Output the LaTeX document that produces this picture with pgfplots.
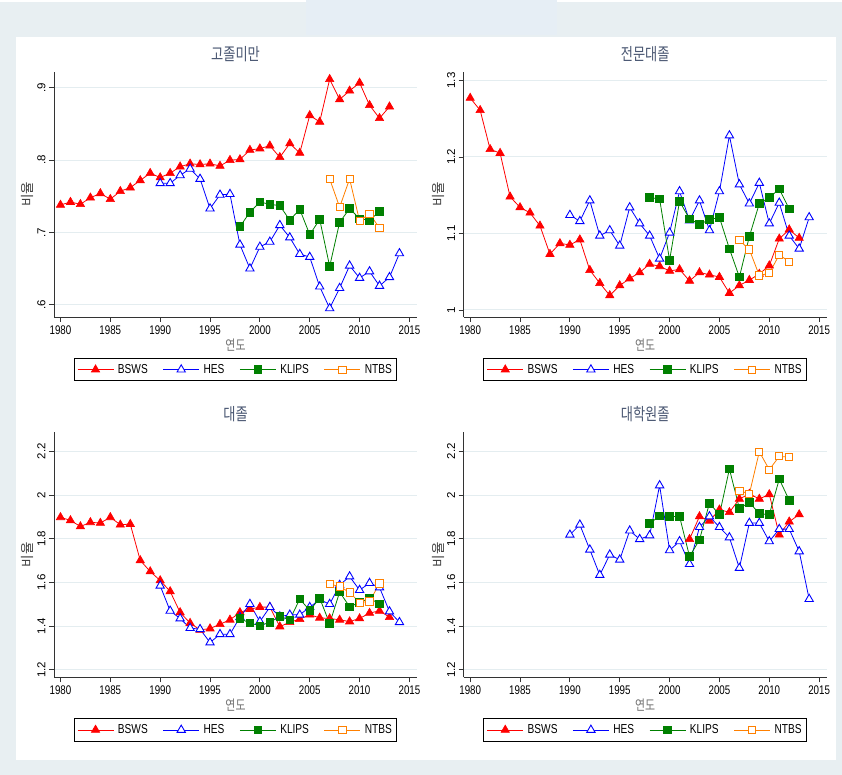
\documentclass[border=0pt]{standalone}
\usepackage{fontspec}
\setmainfont{Liberation Sans}[FakeStretch=0.78]
\newfontfamily\rotfont{Liberation Sans}
\newfontfamily\kr{Noto Sans CJK KR}[FakeStretch=0.78]
\newfontfamily\krrot{Noto Sans CJK KR}
\usepackage{pgfplots}
\pgfplotsset{compat=1.18}
\definecolor{bgout}{HTML}{E8EFF2}
\definecolor{bgtop}{HTML}{E6EEF5}
\definecolor{gridcol}{HTML}{E4EDF0}
\definecolor{titlecol}{HTML}{4B5873}
\definecolor{sred}{RGB}{255,0,0}
\definecolor{sblue}{RGB}{0,0,255}
\definecolor{sgreen}{RGB}{0,128,0}
\definecolor{sorange}{RGB}{255,128,0}
\pgfplotsset{
  panel/.style={
    scale only axis, width=363pt, height=245pt,
    anchor=south west,
    xmin=1979.35, xmax=2015.76,
    axis x line*=bottom, axis y line*=left,
    axis line style={black!80, line width=0.8pt, -},
    tick align=outside, major tick length=5pt,
    tick style={black!80, line width=0.8pt},
    xtick={1980,1985,...,2015},
    xticklabels={1980,1985,1990,1995,2000,2005,2010,2015},
    ymajorgrids, grid style={gridcol, line width=1pt},
    xticklabel style={font=\fontsize{12.5}{14}\selectfont, text=black},
    yticklabel style={rotate=90, anchor=south, font=\rotfont\fontsize{11.5}{13}\selectfont, text=black},
    title style={at={(axis description cs:0.5,1.049)}, anchor=center, font=\kr\fontsize{17}{20}\selectfont, text=titlecol},
    xlabel={\kr\fontsize{14}{16}\selectfont 연도},
    xlabel style={at={(axis description cs:0.5,-0.1143)}, anchor=center, text=black!55},
    ylabel={\krrot\fontsize{13.5}{16}\selectfont 비율},
    ylabel style={anchor=center, text=black!75},
    legend columns=4,
    legend style={at={(axis description cs:0.5,-0.167)}, anchor=north, draw=black, line width=0.8pt, fill=white,
      font=\fontsize{13}{15}\selectfont, inner xsep=3pt, inner ysep=4pt,
      /tikz/every even column/.append style={column sep=13pt},
      /tikz/every odd column/.append style={column sep=2pt}},
    legend image code/.code={\draw[mark repeat=2,mark phase=2,#1] plot coordinates {(0pt,0pt)(18pt,0pt)(36pt,0pt)};},
  },
  bsws/.style={color=sred, line width=0.8pt, mark=triangle*, mark size=4.8pt, mark options={solid, fill=sred, draw=sred, line width=0.6pt}},
  hes/.style={color=sblue, line width=0.8pt, mark=triangle*, mark size=4.8pt, mark options={solid, fill=white, draw=sblue, line width=0.9pt}},
  klips/.style={color=sgreen, line width=0.8pt, mark=square*, mark size=3.8pt, mark options={solid, fill=sgreen, draw=sgreen}},
  ntbs/.style={color=sorange, line width=0.8pt, mark=square*, mark size=3.6pt, mark options={solid, fill=white, draw=sorange, line width=0.9pt}},
}
\begin{document}
\begin{tikzpicture}
\fill[bgout] (0pt,0pt) rectangle (842pt,775pt);
\fill[white] (0pt,773pt) rectangle (842pt,775pt);
\fill[bgtop] (306pt,740pt) rectangle (557pt,775pt);
\fill[white] (16pt,15pt) rectangle (836pt,738pt);
\path[use as bounding box] (0pt,0pt) rectangle (842pt,775pt);

% Panel 1
\begin{axis}[panel, at={(54pt,458pt)}, title={\kr 고졸미만},
  ymin=0.583, ymax=0.922, ytick={0.6,0.7,0.8,0.9}, yticklabels={.6,.7,.8,.9},
  ylabel style={at={(axis description cs:-0.073,0.5)}}]
\addplot[bsws] coordinates {(1980,0.738)(1981,0.742)(1982,0.739)(1983,0.748)(1984,0.754)(1985,0.746)(1986,0.757)(1987,0.762)(1988,0.772)(1989,0.782)(1990,0.776)(1991,0.782)(1992,0.791)(1993,0.795)(1994,0.794)(1995,0.795)(1996,0.792)(1997,0.800)(1998,0.801)(1999,0.814)(2000,0.816)(2001,0.820)(2002,0.804)(2003,0.823)(2004,0.810)(2005,0.862)(2006,0.853)(2007,0.912)(2008,0.884)(2009,0.896)(2010,0.907)(2011,0.876)(2012,0.858)(2013,0.874)};
\addplot[hes] coordinates {(1990,0.768)(1991,0.768)(1992,0.779)(1993,0.788)(1994,0.774)(1995,0.733)(1996,0.752)(1997,0.753)(1998,0.683)(1999,0.650)(2000,0.680)(2001,0.687)(2002,0.710)(2003,0.693)(2004,0.670)(2005,0.666)(2006,0.625)(2007,0.595)(2008,0.623)(2009,0.654)(2010,0.637)(2011,0.646)(2012,0.626)(2013,0.638)(2014,0.671)};
\addplot[klips] coordinates {(1998,0.708)(1999,0.728)(2000,0.742)(2001,0.739)(2002,0.737)(2003,0.717)(2004,0.732)(2005,0.697)(2006,0.718)(2007,0.653)(2008,0.714)(2009,0.733)(2010,0.719)(2011,0.717)(2012,0.729)};
\addplot[ntbs] coordinates {(2007,0.774)(2008,0.735)(2009,0.774)(2010,0.716)(2011,0.726)(2012,0.706)};
\legend{BSWS,HES,KLIPS,NTBS}
\end{axis}

% Panel 2
\begin{axis}[panel, at={(463.7pt,458pt)}, title={\kr 전문대졸},
  ymin=0.9908, ymax=1.311, ytick={1,1.1,1.2,1.3}, yticklabels={1,1.1,1.2,1.3},
  ylabel style={at={(axis description cs:-0.0708,0.5)}}]
\addplot[bsws] coordinates {(1980,1.277)(1981,1.261)(1982,1.210)(1983,1.205)(1984,1.148)(1985,1.134)(1986,1.127)(1987,1.110)(1988,1.073)(1989,1.087)(1990,1.085)(1991,1.092)(1992,1.052)(1993,1.035)(1994,1.019)(1995,1.032)(1996,1.041)(1997,1.049)(1998,1.060)(1999,1.057)(2000,1.051)(2001,1.053)(2002,1.038)(2003,1.049)(2004,1.046)(2005,1.043)(2006,1.022)(2007,1.032)(2008,1.039)(2009,1.047)(2010,1.058)(2011,1.093)(2012,1.105)(2013,1.094)};
\addplot[hes] coordinates {(1990,1.124)(1991,1.116)(1992,1.143)(1993,1.097)(1994,1.104)(1995,1.084)(1996,1.134)(1997,1.113)(1998,1.097)(1999,1.067)(2000,1.101)(2001,1.155)(2002,1.117)(2003,1.143)(2004,1.104)(2005,1.155)(2006,1.228)(2007,1.164)(2008,1.139)(2009,1.166)(2010,1.113)(2011,1.140)(2012,1.097)(2013,1.080)(2014,1.121)};
\addplot[klips] coordinates {(1998,1.147)(1999,1.145)(2000,1.065)(2001,1.142)(2002,1.119)(2003,1.112)(2004,1.118)(2005,1.121)(2006,1.080)(2007,1.043)(2008,1.096)(2009,1.139)(2010,1.147)(2011,1.158)(2012,1.132)};
\addplot[ntbs] coordinates {(2007,1.091)(2008,1.079)(2009,1.045)(2010,1.048)(2011,1.072)(2012,1.063)};
\legend{BSWS,HES,KLIPS,NTBS}
\end{axis}

% Panel 3
\begin{axis}[panel, at={(54pt,97.7pt)}, title={\kr 대졸},
  ymin=1.166, ymax=2.287, ytick={1.2,1.4,1.6,1.8,2,2.2}, yticklabels={1.2,1.4,1.6,1.8,2,2.2},
  ylabel style={at={(axis description cs:-0.073,0.5)}}]
\addplot[bsws] coordinates {(1980,1.898)(1981,1.884)(1982,1.856)(1983,1.875)(1984,1.872)(1985,1.898)(1986,1.864)(1987,1.867)(1988,1.701)(1989,1.650)(1990,1.609)(1991,1.559)(1992,1.463)(1993,1.414)(1994,1.383)(1995,1.389)(1996,1.409)(1997,1.429)(1998,1.463)(1999,1.478)(2000,1.487)(2001,1.487)(2002,1.398)(2003,1.418)(2004,1.432)(2005,1.452)(2006,1.438)(2007,1.435)(2008,1.429)(2009,1.421)(2010,1.435)(2011,1.460)(2012,1.470)(2013,1.441)};
\addplot[hes] coordinates {(1990,1.585)(1991,1.470)(1992,1.435)(1993,1.391)(1994,1.386)(1995,1.325)(1996,1.363)(1997,1.363)(1998,1.441)(1999,1.501)(2000,1.421)(2001,1.487)(2002,1.444)(2003,1.452)(2004,1.452)(2005,1.487)(2006,1.521)(2007,1.501)(2008,1.588)(2009,1.627)(2010,1.565)(2011,1.597)(2012,1.577)(2013,1.467)(2014,1.418)};
\addplot[klips] coordinates {(1998,1.435)(1999,1.414)(2000,1.402)(2001,1.418)(2002,1.444)(2003,1.429)(2004,1.524)(2005,1.472)(2006,1.528)(2007,1.412)(2008,1.556)(2009,1.489)(2010,1.508)(2011,1.528)(2012,1.501)};
\addplot[ntbs] coordinates {(2007,1.592)(2008,1.582)(2009,1.554)(2010,1.508)(2011,1.513)(2012,1.595)};
\legend{BSWS,HES,KLIPS,NTBS}
\end{axis}

% Panel 4
\begin{axis}[panel, at={(463.7pt,97.7pt)}, title={\kr 대학원졸},
  ymin=1.166, ymax=2.287, ytick={1.2,1.4,1.6,1.8,2,2.2}, yticklabels={1.2,1.4,1.6,1.8,2,2.2},
  ylabel style={at={(axis description cs:-0.0708,0.5)}}]
\addplot[bsws] coordinates {(2002,1.798)(2003,1.902)(2004,1.882)(2005,1.933)(2006,1.921)(2007,1.982)(2008,2.005)(2009,1.982)(2010,2.003)(2011,1.818)(2012,1.878)(2013,1.911)};
\addplot[hes] coordinates {(1990,1.818)(1991,1.864)(1992,1.750)(1993,1.634)(1994,1.727)(1995,1.704)(1996,1.837)(1997,1.798)(1998,1.815)(1999,2.044)(2000,1.747)(2001,1.788)(2002,1.684)(2003,1.853)(2004,1.902)(2005,1.853)(2006,1.806)(2007,1.666)(2008,1.872)(2009,1.872)(2010,1.788)(2011,1.844)(2012,1.844)(2013,1.742)(2014,1.524)};
\addplot[klips] coordinates {(1998,1.869)(1999,1.905)(2000,1.901)(2001,1.902)(2002,1.719)(2003,1.795)(2004,1.963)(2005,1.910)(2006,2.119)(2007,1.939)(2008,1.966)(2009,1.915)(2010,1.910)(2011,2.073)(2012,1.976)};
\addplot[ntbs] coordinates {(2007,2.020)(2008,2.005)(2009,2.198)(2010,2.116)(2011,2.177)(2012,2.173)};
\legend{BSWS,HES,KLIPS,NTBS}
\end{axis}
\end{tikzpicture}
\end{document}
